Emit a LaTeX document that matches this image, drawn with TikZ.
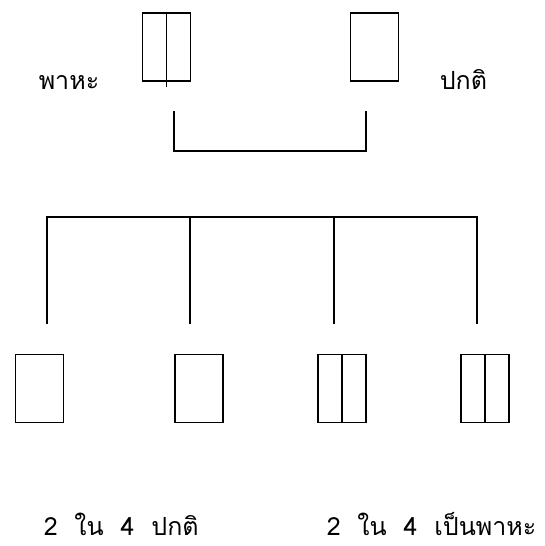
\documentclass[tikz,border=0pt]{standalone}
\usepackage{fontspec}
\newfontfamily\thaifont[Script=Thai]{Loma}
\begin{document}
\begin{tikzpicture}[x=1pt,y=-1pt,
  line width=1.5pt,
  cell/.style={draw, rectangle, minimum width=48pt, minimum height=68pt, inner sep=0pt},
  lbl/.style={font=\thaifont\fontsize{25}{28}\selectfont, inner sep=0pt, anchor=base west},
  link/.style={line width=1.4pt}]
\useasboundingbox (0,0) rectangle (545,546);

% parents
\node[cell] (p1) at (166.5,47) {};
\node[cell] (p2) at (374.5,47) {};
\draw (p1.north) -- ([yshift=-5pt]p1.south);
\node[lbl] (l1) at (38,89) {พาหะ};
\node[lbl] (l2) at (439,89) {ปกติ};

% cross bracket
\coordinate (ba) at (174,111);
\coordinate (bb) at (366,111);
\draw[link] (ba) -- (174,151) -| (bb);

% branching line
\coordinate (h1) at (47,217);
\coordinate (h4) at (477,217);
\coordinate (d1) at (47,324);
\coordinate (d2) at (190,324);
\coordinate (d3) at (334,324);
\coordinate (d4) at (477,324);
\draw[link] (d1) -- (h1) -- (h4) -- (d4);
\draw[link] (d2) -- (190,217);
\draw[link] (d3) -- (334,217);

% offspring
\node[cell] (c1) at (39.5,388.5) {};
\node[cell] (c2) at (199,388.5) {};
\node[cell] (c3) at (342,388.5) {};
\node[cell] (c4) at (485,388.5) {};
\draw (c3.north) -- (c3.south);
\draw (c4.north) -- (c4.south);

\node[lbl] (t1) at (43,535) {2 \ ใน \ 4 \ ปกติ};
\node[lbl] (t2) at (326,535) {2 \ ใน \ 4 \ เป็นพาหะ};
\end{tikzpicture}
\end{document}
